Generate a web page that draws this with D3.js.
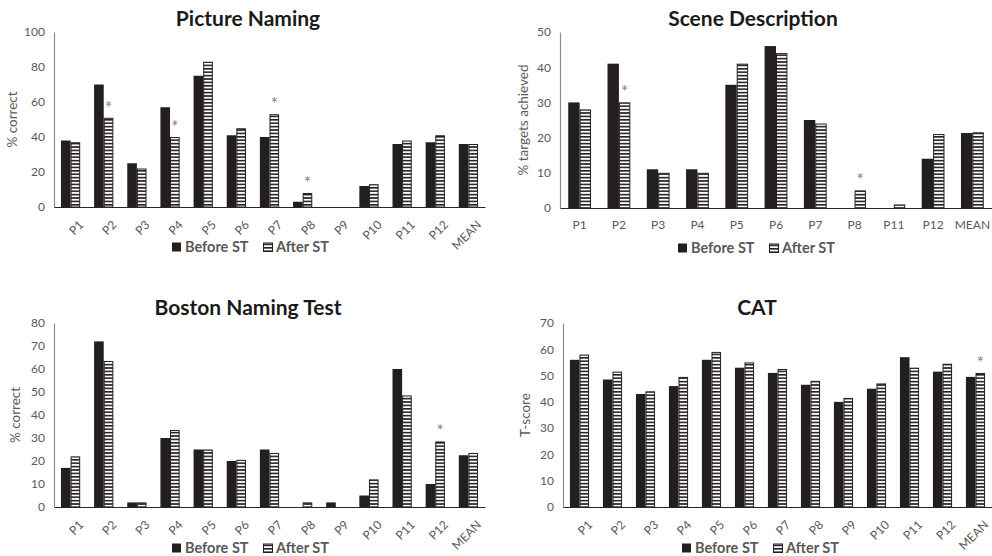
<!DOCTYPE html>
<html>
<head>
<meta charset="utf-8">
<script src="https://cdn.jsdelivr.net/npm/d3@7/dist/d3.min.js"></script>
<style>
  body { margin: 0; background: #fff; }
  text { font-family: Lato, "Open Sans", sans-serif; }
</style>
</head>
<body>
<svg id="chart" width="992" height="556"></svg>
<script>

// Picture Naming
const pnCategories = ["P1","P2","P3","P4","P5","P6","P7","P8","P9","P10","P11","P12","MEAN"];
const pnBefore = [38, 70, 25, 57, 75, 41, 40, 3, 0, 12, 36, 37, 36];
const pnAfter  = [37, 51, 22, 40, 83, 45, 53, 8, 0, 13, 38, 41, 36];
const pnStars  = ["P2","P4","P7","P8"];

// Scene Description
const sdCategories = ["P1","P2","P3","P4","P5","P6","P7","P8","P11","P12","MEAN"];
const sdBefore = [30, 41, 11, 11, 35, 46, 25, 0, 0, 14, 21.3];
const sdAfter  = [28, 30, 10, 10, 41, 44, 24, 5, 1, 21, 21.5];
const sdStars  = ["P2","P8"];

// Boston Naming Test
const bnCategories = ["P1","P2","P3","P4","P5","P6","P7","P8","P9","P10","P11","P12","MEAN"];
const bnBefore = [17, 72, 2, 30, 25, 20, 25, 0, 2, 5, 60, 10, 22.5];
const bnAfter  = [22, 63.5, 2, 33.5, 25, 20.5, 23.5, 2, 0, 12, 48.5, 28.5, 23.5];
const bnStars  = ["P12"];

// CAT
const catCategories = ["P1","P2","P3","P4","P5","P6","P7","P8","P9","P10","P11","P12","MEAN"];
const catBefore = [56, 48.5, 43, 46, 56, 53, 51, 46.5, 40, 45, 57, 51.5, 49.5];
const catAfter  = [58, 51.5, 44, 49.5, 59, 55, 52.5, 48, 41.5, 47, 53, 54.5, 51];
const catStars  = ["MEAN"];

const seriesNames = ["Before ST", "After ST"];

const darkFill = "#231f20";
const greyText = "#595959";

const svg = d3.select("#chart");

// striped pattern for the "After ST" bars
const defs = svg.append("defs");
const pattern = defs.append("pattern")
    .attr("id", "stripes")
    .attr("patternUnits", "userSpaceOnUse")
    .attr("width", 10)
    .attr("height", 3.4);
pattern.append("rect").attr("width", 10).attr("height", 3.4).attr("fill", "#fff");
pattern.append("rect").attr("width", 10).attr("height", 1.6).attr("fill", darkFill);

svg.append("rect").attr("width", 992).attr("height", 556).attr("fill", "#fff");

const panels = [
  { title: "Picture Naming", cats: pnCategories, before: pnBefore, after: pnAfter, stars: pnStars,
    yMax: 100, yStep: 20, yLabel: "% correct", left: 54, right: 485, top: 32, bottom: 207,
    titleX: 248, titleY: 26, yLabelX: 12, rotate: true, legendX: 172, legendY: 247 },
  { title: "Scene Description", cats: sdCategories, before: sdBefore, after: sdAfter, stars: sdStars,
    yMax: 50, yStep: 10, yLabel: "% targets achieved", left: 560, right: 992, top: 32, bottom: 208,
    titleX: 753, titleY: 26, yLabelX: 523, rotate: false, legendX: 678, legendY: 248 },
  { title: "Boston Naming Test", cats: bnCategories, before: bnBefore, after: bnAfter, stars: bnStars,
    yMax: 80, yStep: 10, yLabel: "% correct", left: 54, right: 485, top: 323, bottom: 507,
    titleX: 248, titleY: 315, yLabelX: 15, rotate: true, legendX: 172, legendY: 548 },
  { title: "CAT", cats: catCategories, before: catBefore, after: catAfter, stars: catStars,
    yMax: 70, yStep: 10, yLabel: "T-score", left: 563, right: 992, top: 323, bottom: 507,
    titleX: 757, titleY: 315, yLabelX: 525, rotate: true, legendX: 682, legendY: 548 }
];

function drawPanel(p) {
  const g = svg.append("g");

  const x = d3.scaleBand()
    .domain(p.cats)
    .range([p.left, p.right])
    .paddingInner(0.42)
    .paddingOuter(0.21);

  const y = d3.scaleLinear()
    .domain([0, p.yMax])
    .range([p.bottom, p.top]);

  const half = x.bandwidth() / 2;

  // title
  g.append("text")
    .attr("x", p.titleX)
    .attr("y", p.titleY)
    .attr("text-anchor", "middle")
    .attr("font-size", 21)
    .attr("font-weight", "bold")
    .attr("fill", "#1a1a1a")
    .text(p.title);

  // y axis
  const yAxis = g.append("g")
    .attr("transform", `translate(${p.left},0)`)
    .call(d3.axisLeft(y).tickValues(d3.range(0, p.yMax + 0.001, p.yStep)).tickSize(0).tickPadding(9));
  yAxis.select(".domain").attr("stroke", "#8c8c8c").attr("stroke-width", 1.2);
  yAxis.selectAll("text").attr("fill", greyText).attr("font-size", 12)
    .attr("font-family", "Lato, 'Open Sans', sans-serif");

  // y label
  g.append("text")
    .attr("transform", `translate(${p.yLabelX},${(p.top + p.bottom) / 2}) rotate(-90)`)
    .attr("text-anchor", "middle")
    .attr("dy", "0.35em")
    .attr("font-size", 13.5)
    .attr("fill", greyText)
    .text(p.yLabel);

  // bars
  const rows = p.cats.map((c, i) => ({ cat: c, before: p.before[i], after: p.after[i] }));

  g.selectAll(".before")
    .data(rows.filter(d => d.before > 0))
    .enter().append("rect")
    .attr("x", d => x(d.cat))
    .attr("y", d => y(d.before))
    .attr("width", half)
    .attr("height", d => y(0) - y(d.before))
    .attr("fill", darkFill);

  g.selectAll(".after")
    .data(rows.filter(d => d.after > 0))
    .enter().append("rect")
    .attr("x", d => x(d.cat) + half + 0.5)
    .attr("y", d => y(d.after) + 0.5)
    .attr("width", half - 1)
    .attr("height", d => y(0) - y(d.after) - 0.5)
    .attr("fill", "url(#stripes)")
    .attr("stroke", darkFill)
    .attr("stroke-width", 1);

  // significance stars
  g.selectAll(".star")
    .data(rows.filter(d => p.stars.includes(d.cat)))
    .enter().append("text")
    .attr("x", d => x(d.cat) + half * 1.5)
    .attr("y", d => y(d.after) - 4)
    .attr("text-anchor", "middle")
    .attr("font-size", 17)
    .attr("fill", "#7f7f7f")
    .text("*");

  // x axis
  const xAxis = g.append("g")
    .attr("transform", `translate(0,${p.bottom})`)
    .call(d3.axisBottom(x).tickSize(0).tickPadding(8));
  xAxis.select(".domain").attr("stroke", "#262626").attr("stroke-width", 1.2);
  const xt = xAxis.selectAll("text")
    .attr("fill", greyText)
    .attr("font-size", 12)
    .attr("font-family", "Lato, 'Open Sans', sans-serif");
  if (p.rotate) {
    xt.attr("text-anchor", "end")
      .attr("transform", "translate(5,10) rotate(-45)")
      .attr("dy", "0.35em")
      .attr("y", 8)
      .attr("x", 0);
  } else {
    xt.attr("y", 12);
  }

  // legend
  const lg = g.append("g").attr("transform", `translate(${p.legendX},${p.legendY})`);
  lg.append("rect").attr("x", 0).attr("y", -4.5).attr("width", 9).attr("height", 9).attr("fill", darkFill);
  lg.append("text").attr("x", 13).attr("dy", "0.35em").attr("font-size", 14.5).attr("font-weight", "bold")
    .attr("fill", greyText).text(seriesNames[0]);
  lg.append("rect").attr("x", 91.5).attr("y", -4).attr("width", 9).attr("height", 8.5)
    .attr("fill", "url(#stripes)").attr("stroke", darkFill).attr("stroke-width", 1);
  lg.append("text").attr("x", 104).attr("dy", "0.35em").attr("font-size", 14.5).attr("font-weight", "bold")
    .attr("fill", greyText).text(seriesNames[1]);
}

panels.forEach(drawPanel);
</script>
</body>
</html>
